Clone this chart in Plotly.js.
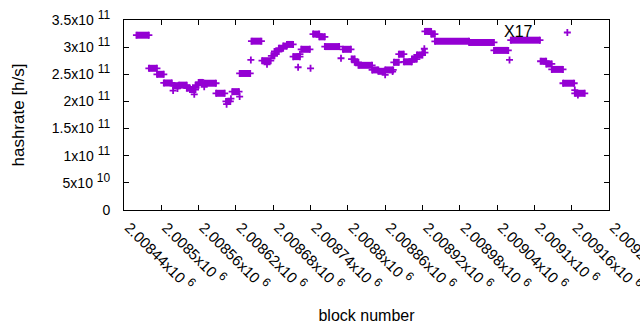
<!DOCTYPE html>
<html><head><meta charset="utf-8">
<script src="https://cdn.plot.ly/plotly-3.0.1.min.js"></script>
<style>html,body{margin:0;padding:0;background:#fff}#chart{width:640px;height:330px}</style>
</head><body><div id="chart"></div>
<script>
// Runs of consecutive blocks sharing one hashrate value (start block, end block, value)
const runStart = [2008460,2008480,2008493,2008504,2008519,2008528,2008541,2008546,2008555,2008560,
  2008569,2008588,2008604,2008614,2008626,2008645,2008662,2008677,2008682,2008689,
  2008696,2008702,2008712,2008725,2008744,2008754,2008763,2008792,2008806,2008811,
  2008817,2008839,2008849,2008860,2008874,2008882,2008890,2008903,2008911,2008920,
  2008924,2008934,2008940,2008995,2009035,2009062,2009110,2009119,2009128,2009146,2009165];
const runEnd = [2008480,2008493,2008504,2008517,2008528,2008541,2008546,2008555,2008560,2008567,
  2008588,2008602,2008611,2008625,2008643,2008661,2008676,2008682,2008689,2008696,
  2008702,2008712,2008723,2008739,2008754,2008763,2008786,2008805,2008811,2008817,
  2008839,2008849,2008859,2008873,2008882,2008890,2008903,2008911,2008920,2008924,
  2008934,2008940,2008995,2009035,2009058,2009109,2009119,2009128,2009146,2009164,2009181];
const runValue = [3.22e11,2.61e11,2.50e11,2.34e11,2.29e11,2.30e11,2.245e11,2.22e11,2.30e11,2.35e11,
  2.335e11,2.15e11,2.00e11,2.18e11,2.515e11,3.11e11,2.75e11,2.84e11,2.92e11,2.98e11,
  3.02e11,3.05e11,2.825e11,2.96e11,3.24e11,3.19e11,3.01e11,2.96e11,2.78e11,2.72e11,
  2.665e11,2.58e11,2.555e11,2.58e11,2.72e11,2.87e11,2.73e11,2.78e11,2.855e11,2.90e11,
  3.29e11,3.24e11,3.108e11,3.086e11,2.94e11,3.128e11,2.74e11,2.69e11,2.59e11,2.335e11,2.15e11];
// Isolated blocks
const pointBlock = [2008519,2008526,2008553,2008569,2008605,2008612,2008626,2008644,2008670,2008720,
  2008723,2008740,2008789,2008860,2008872,2008923,2009060,2009153,2009165,2009170];
const pointValue = [2.20e11,2.24e11,2.13e11,2.27e11,1.95e11,2.05e11,2.09e11,2.764e11,2.685e11,2.63e11,
  2.87e11,2.61e11,2.795e11,2.49e11,2.55e11,2.97e11,2.764e11,3.27e11,2.21e11,2.12e11];

const xTickVals = [2008440,2008500,2008560,2008620,2008680,2008740,2008800,2008860,2008920,2008980,2009040,2009100,2009160,2009220];
const xTickLabels = ["2.00844","2.0085","2.00856","2.00862","2.00868","2.00874","2.0088","2.00886","2.00892","2.00898","2.00904","2.0091","2.00916","2.00922"];
const xTickExp = "6";
const yTickVals = [0,5e10,1e11,1.5e11,2e11,2.5e11,3e11,3.5e11];
const yTickMant = ["0","5","1","1.5","2","2.5","3","3.5"];
const yTickExp = ["","10","11","11","11","11","11","11"];

const labelText = "X17";
const labelBlock = 2009075;
const labelValue = 3.28e11;

const col = '#9400D3';
const font = 'Liberation Sans, Arial, sans-serif';

const lx = [], ly = [];
runStart.forEach((s, i) => { lx.push(s, runEnd[i], null); ly.push(runValue[i], runValue[i], null); });

const mx = runStart.concat(runEnd, pointBlock);
const my = runValue.concat(runValue, pointValue);

const traces = [
  {type:'scatter', mode:'lines', x:lx, y:ly, line:{color:col, width:7}, connectgaps:false, hoverinfo:'skip', showlegend:false},
  {type:'scatter', mode:'markers', x:mx, y:my, marker:{symbol:'cross-thin', size:5, color:col, line:{color:col, width:1.8}}, showlegend:false}
];

const supX = e => '<sup><span style="font-size:12px">' + e + '</span></sup>';
const supY = e => '<sup><span style="font-size:12px">' + e + '</span></sup>';

const layout = {
  width:640, height:330,
  margin:{l:124, r:31, t:20, b:120, pad:0},
  paper_bgcolor:'#fff', plot_bgcolor:'#fff',
  font:{family:font, size:14, color:'#000'},
  showlegend:false,
  xaxis:{
    range:[2008440,2009220], autorange:false,
    tickmode:'array', tickvals:xTickVals,
    ticktext:xTickLabels.map(t => t + 'x10 ' + supX(xTickExp)),
    tickangle:45, ticks:'inside', ticklen:5, tickcolor:'#000', ticklabelstandoff:2,
    ticklabelshift:5, ticklabeloverflow:'allow',
    showline:true, linecolor:'#000', linewidth:1, mirror:'allticks',
    showgrid:false, zeroline:false, automargin:false,
    tickfont:{family:font, size:15},
    title:{text:'block number', font:{family:font, size:16}, standoff:16}
  },
  yaxis:{
    range:[0,3.5e11], autorange:false,
    tickmode:'array', tickvals:yTickVals,
    ticktext:yTickMant.map((m,i) => yTickExp[i] ? m + 'x10 ' + supY(yTickExp[i]) : m),
    ticks:'inside', ticklen:5, tickcolor:'#000', ticklabelstandoff:10,
    showline:true, linecolor:'#000', linewidth:1, mirror:'allticks',
    showgrid:false, zeroline:false, automargin:false,
    tickfont:{family:font, size:14},
    title:{text:'hashrate [h/s]', font:{family:font, size:17}, standoff:22}
  },
  annotations:[{x:labelBlock, y:labelValue, xref:'x', yref:'y', text:labelText, showarrow:false,
    font:{family:font, size:16, color:'#000'}, xanchor:'center', yanchor:'middle'}]
};

Plotly.newPlot('chart', traces, layout, {displayModeBar:false, staticPlot:true});
</script>
</body></html>
